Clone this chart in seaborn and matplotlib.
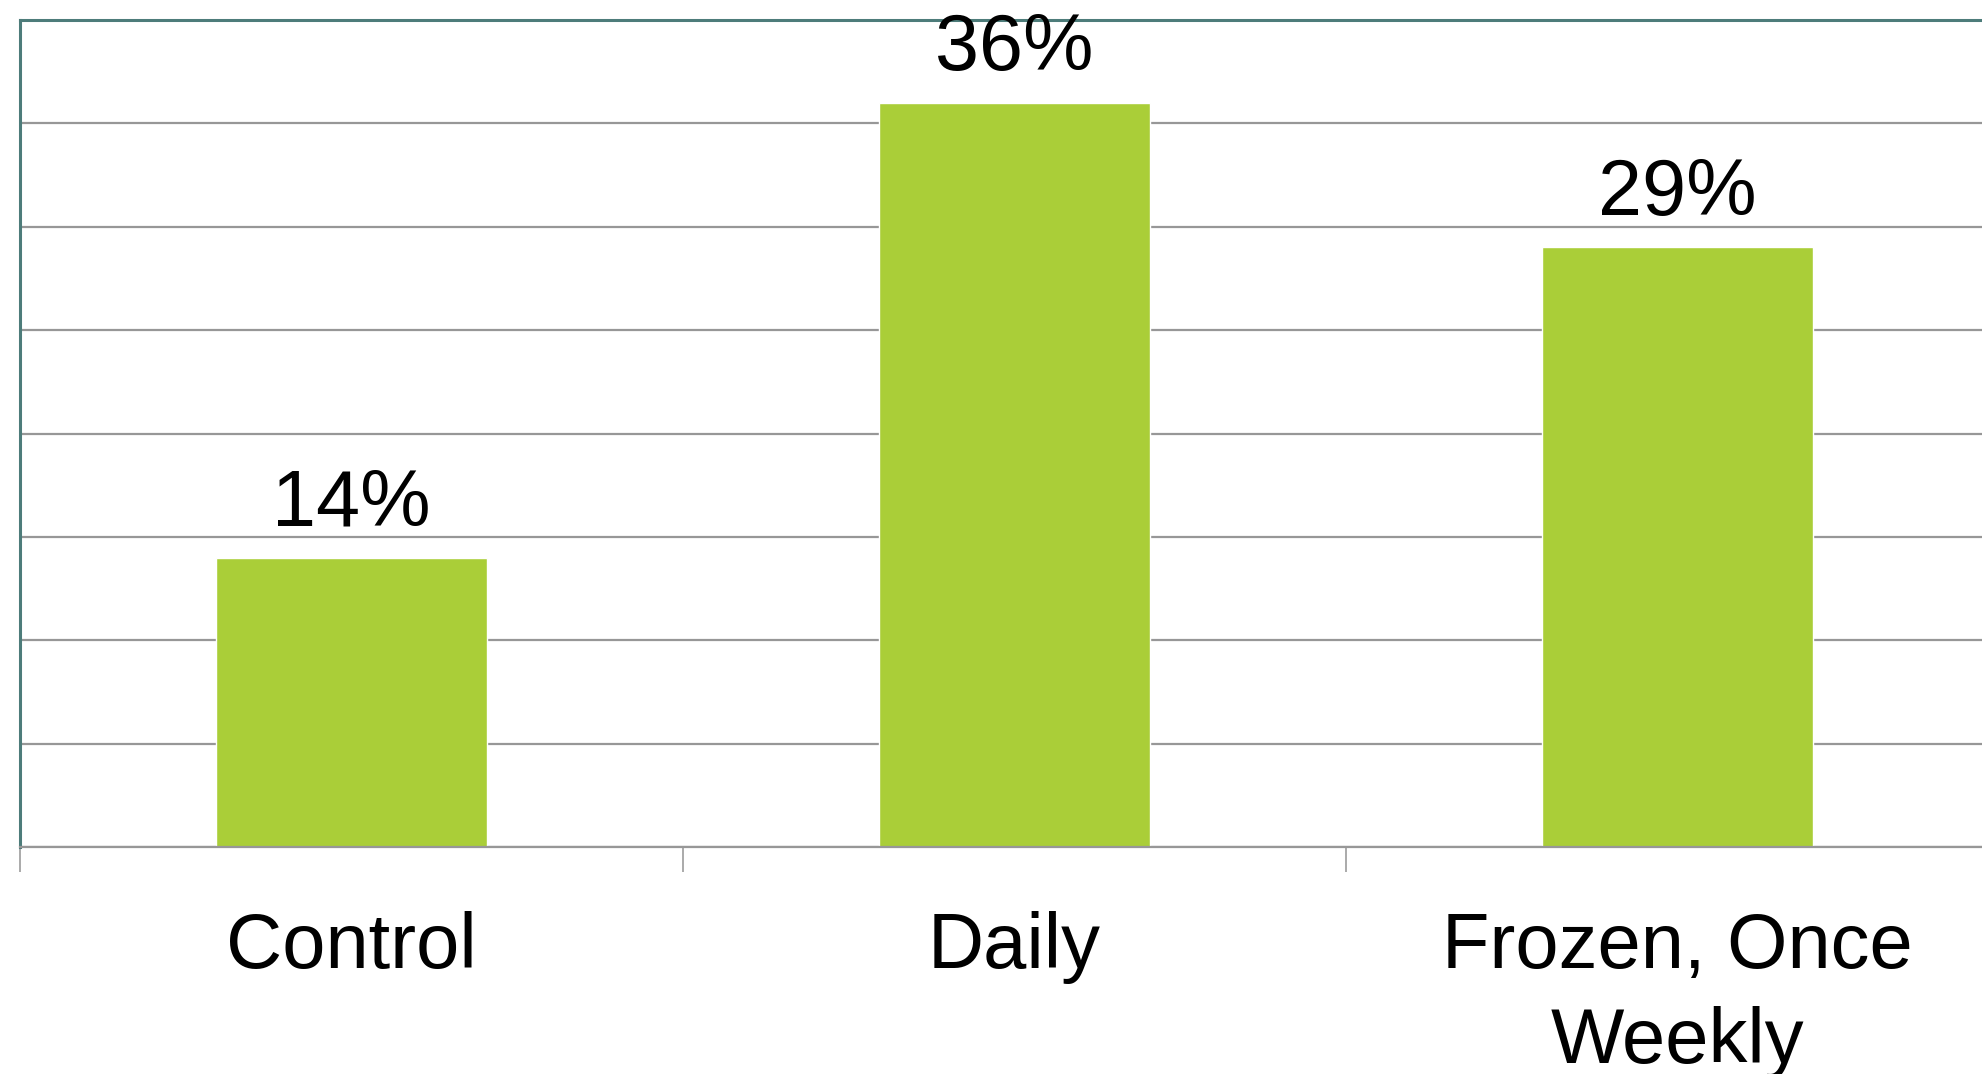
import matplotlib
matplotlib.use("Agg")
import matplotlib.pyplot as plt
import seaborn as sns
import pandas as pd

categories = ["Control", "Daily", "Frozen, Once\nWeekly"]
values = [14, 36, 29]
value_labels = ["14%", "36%", "29%"]

sns.set_theme(style="white")
plt.rcParams['font.family'] = ['Liberation Sans', 'DejaVu Sans']

W, H = 1982, 1074
fig = plt.figure(figsize=(W / 100, H / 100), dpi=100)
fig.patch.set_facecolor("white")

left_px, top_px, base_px, cat_px = 20, 20, 847, 663
ax = fig.add_axes([left_px / W, 1 - base_px / H, 3 * cat_px / W, (base_px - top_px) / H])

df = pd.DataFrame({"cat": categories, "val": values})
sns.barplot(data=df, x="cat", y="val", color="#AACE38", saturation=1,
            width=0.41, ax=ax, zorder=2)

ax.set_xlim(-0.5, 2.5)
ax.set_ylim(0, 40)
ax.set_yticks(range(0, 41, 5))
ax.set_yticklabels([])
ax.tick_params(axis="y", length=0)
ax.yaxis.grid(True, color="#979797", linewidth=1.6)
ax.xaxis.grid(False)
ax.set_axisbelow(True)

# category boundary ticks (major) and centered labels (minor)
ax.set_xticks([-0.5, 0.5, 1.5, 2.5])
ax.set_xticklabels([])
ax.tick_params(axis="x", which="major", direction="out", length=18,
               width=1.2, color="#9c9c9c", bottom=True)
ax.set_xticks([0, 1, 2], minor=True)
ax.set_xticklabels(categories, minor=True, fontsize=56, color="black",
                   linespacing=1.38)
ax.tick_params(axis="x", which="minor", length=0, pad=46)

ax.set_xlabel("")
ax.set_ylabel("")

for name in ["left", "top"]:
    ax.spines[name].set_color("#4d7c7a")
    ax.spines[name].set_linewidth(2.2)
ax.spines["right"].set_visible(False)
ax.spines["bottom"].set_color("#979797")
ax.spines["bottom"].set_linewidth(1.6)

ax.bar_label(ax.containers[0], labels=value_labels, padding=11,
             fontsize=57, color="black")

fig.savefig("out.png", dpi=100, facecolor="white")
